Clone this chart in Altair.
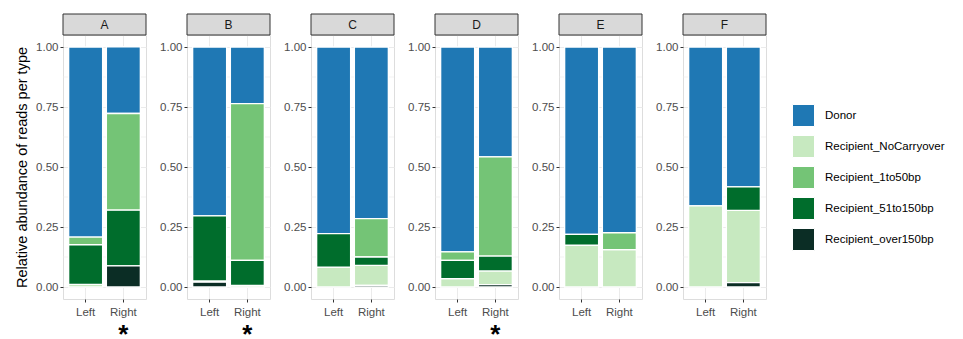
import altair as alt
import pandas as pd

panels = ["A", "B", "C", "D", "E", "F"]
sides = ["Left", "Right"]
types = ["Donor", "Recipient_NoCarryover", "Recipient_1to50bp",
         "Recipient_51to150bp", "Recipient_over150bp"]
colors = ["#1F78B4", "#C7E9C0", "#74C476", "#006D2C", "#0B2D25"]
# stacking order from bottom to top
stack_order = ["Recipient_over150bp", "Recipient_NoCarryover",
               "Recipient_51to150bp", "Recipient_1to50bp", "Donor"]

# values per (panel, side): A-Left, A-Right, B-Left, B-Right, ...
donor    = [0.792, 0.278, 0.704, 0.236, 0.778, 0.715, 0.854, 0.458, 0.781, 0.774, 0.662, 0.583]
nocarry  = [0.011, 0.000, 0.005, 0.007, 0.083, 0.083, 0.035, 0.057, 0.174, 0.156, 0.338, 0.301]
r1to50   = [0.032, 0.403, 0.000, 0.653, 0.000, 0.160, 0.035, 0.413, 0.000, 0.070, 0.000, 0.000]
r51to150 = [0.165, 0.232, 0.271, 0.104, 0.139, 0.035, 0.076, 0.062, 0.045, 0.000, 0.000, 0.098]
over150  = [0.000, 0.088, 0.020, 0.000, 0.000, 0.007, 0.000, 0.010, 0.000, 0.000, 0.000, 0.018]
signif   = ["", "*", "", "*", "", "", "", "*", "", "", "", ""]

y_ticks = [0, 0.25, 0.5, 0.75, 1.0]
minor_ticks = [0.125, 0.375, 0.625, 0.875]

series = {
    "Donor": donor,
    "Recipient_NoCarryover": nocarry,
    "Recipient_1to50bp": r1to50,
    "Recipient_51to150bp": r51to150,
    "Recipient_over150bp": over150,
}

rows = []
sig_rows = []
i = 0
for p in panels:
    for s in sides:
        for t in types:
            v = series[t][i]
            if v > 0:
                rows.append({"panel": p, "side": s, "type": t, "value": v,
                             "rank": stack_order.index(t)})
        sig_rows.append({"panel": p, "side": s, "sig": signif[i]})
        i += 1
df = pd.DataFrame(rows)
sig_df = pd.DataFrame(sig_rows)
minor_df = pd.DataFrame({"value": minor_ticks})

W = 83
H = 264
STRIP = 21
FONT = "Liberation Sans"

yscale = alt.Scale(domain=[-0.05, 1.05], nice=False, zero=False)
xscale = alt.Scale(domain=sides, paddingInner=0.1, paddingOuter=0.15)


def make_panel(p, first):
    d = df[df.panel == p]
    xaxis = alt.Axis(labelAngle=0, grid=True, gridColor="#EBEBEB",
                     bandPosition=0.5, tickSize=3, tickColor="#333333",
                     domain=False, labelColor="#4D4D4D",
                     labelFontSize=11.5, labelPadding=4, title=None)
    yaxis = alt.Axis(values=y_ticks, format=".2f", grid=True, gridColor="#EBEBEB",
                     tickSize=3, tickColor="#333333", domain=False,
                     labelColor="#4D4D4D", labelFontSize=11.5, labelPadding=2,
                     titleFontSize=14.5, titleFontWeight="normal",
                     titleColor="#000000", titlePadding=6,
                     title="Relative abundance of reads per type" if first else "")
    minor = alt.Chart(minor_df).mark_rule(color="#EBEBEB", strokeWidth=0.6).encode(
        y=alt.Y("value:Q", scale=yscale, axis=yaxis)
    )
    bars = alt.Chart(d).mark_bar(stroke="white", strokeWidth=1.3).encode(
        x=alt.X("side:N", scale=xscale, sort=sides, axis=xaxis),
        y=alt.Y("value:Q", stack="zero", scale=yscale, axis=yaxis),
        color=alt.Color("type:N",
                        scale=alt.Scale(domain=types, range=colors),
                        legend=alt.Legend(title=None, orient="none",
                                          legendX=729, legendY=69, padding=0,
                                          symbolType="square", symbolSize=484,
                                          symbolStrokeColor="white",
                                          symbolStrokeWidth=1,
                                          labelFont=FONT,
                                          labelFontSize=11.5, labelColor="#000000",
                                          labelOffset=10, rowPadding=4)),
        order=alt.Order("rank:Q", sort="ascending"),
    )
    strip_df = pd.DataFrame({"panel": [p]})
    strip = alt.Chart(strip_df).mark_rect(fill="#D9D9D9", stroke="#333333",
                                          strokeWidth=1).encode(
        x=alt.value(0), x2=alt.value(W), y=alt.value(-STRIP), y2=alt.value(0)
    )
    strip_text = alt.Chart(strip_df).mark_text(fontSize=12, color="#1A1A1A",
                                               baseline="middle", font=FONT).encode(
        text="panel:N", x=alt.value(W / 2), y=alt.value(-STRIP / 2)
    )
    sig = alt.Chart(sig_df[sig_df.panel == p]).mark_text(
        fontSize=26, fontWeight="bold", color="#000000", baseline="middle", font=FONT
    ).encode(
        x=alt.X("side:N", scale=xscale, sort=sides, axis=xaxis),
        y=alt.value(H + 36),
        text="sig:N",
    )
    return alt.layer(minor, bars, sig, strip, strip_text).properties(width=W, height=H)


charts = [make_panel(p, k == 0) for k, p in enumerate(panels)]

chart = alt.hconcat(*charts, spacing=12).configure_view(
    stroke="#333333", strokeWidth=1
).configure(font=FONT).properties(padding={"top": 5, "left": 6, "right": 0, "bottom": 0})

chart.save("out.html", embed_options={"renderer": "svg", "actions": False})
